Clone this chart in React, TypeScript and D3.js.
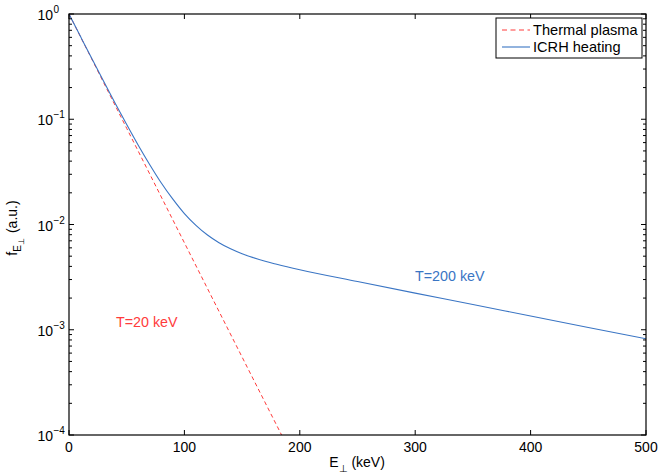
import React from "react";
import * as d3 from "d3";

// E_perp (keV) sample points
const icrhEnergy = [0, 10, 20, 30, 40, 50, 60, 70, 80, 90, 100, 110, 120, 130, 140, 150, 160, 170, 180, 200, 250, 300, 350, 400, 450, 500];
const icrhValues = [1.0, 0.61, 0.373, 0.2295, 0.1422, 0.0891, 0.0567, 0.037, 0.0248, 0.0174, 0.0127, 0.00982, 0.00794, 0.00671, 0.00587, 0.00527, 0.00483, 0.00447, 0.00419, 0.00372, 0.00287, 0.00223, 0.00174, 0.00135, 0.00105, 0.00082];

const thermalEnergy = [0, 50, 100, 150, 190];
const thermalValues = [1.0, 0.082, 0.0067, 0.00055, 0.000075];

const xTicks = [0, 100, 200, 300, 400, 500];
const yExponents = [0, -1, -2, -3, -4];

const legendLabels = ["Thermal plasma", "ICRH heating"];

const W = 658;
const H = 475;
const m = { left: 69, right: 12, top: 14, bottom: 40 };
const font = "'Liberation Sans', Arial, Helvetica, sans-serif";
const red = "#ff3b3b";
const blue = "#3a75c4";

export default function App() {
  const x = d3.scaleLinear().domain([0, 500]).range([m.left, W - m.right]);
  const y = d3.scaleLog().domain([1e-4, 1]).range([H - m.bottom, m.top]);

  const line = d3
    .line<[number, number]>()
    .x((d) => x(d[0]))
    .y((d) => y(d[1]))
    .curve(d3.curveMonotoneX);

  const icrh = icrhEnergy.map((e, i) => [e, icrhValues[i]] as [number, number]);
  const thermal = thermalEnergy.map((e, i) => [e, thermalValues[i]] as [number, number]);

  const x0 = x.range()[0];
  const x1 = x.range()[1];
  const y0 = y.range()[0];
  const y1 = y.range()[1];

  // minor ticks of the log axis
  const minor: number[] = [];
  for (let k = -4; k < 0; k++) {
    for (let j = 2; j <= 9; j++) minor.push(j * Math.pow(10, k));
  }

  return (
    <svg
      width={W}
      height={H}
      style={{ position: "absolute", left: 0, top: 0, background: "#fff" }}
      fontFamily={font}
    >
      <defs>
        <clipPath id="plot">
          <rect x={x0} y={y1} width={x1 - x0} height={y0 - y1} />
        </clipPath>
      </defs>
      <rect width={W} height={H} fill="#fff" />

      <g clipPath="url(#plot)">
        <path d={line(thermal) || ""} fill="none" stroke={red} strokeWidth={1} strokeDasharray="4,3" />
        <path d={line(icrh) || ""} fill="none" stroke={blue} strokeWidth={1.1} />
      </g>

      {/* ticks */}
      {xTicks.map((t) => (
        <g key={"x" + t}>
          <line x1={x(t)} x2={x(t)} y1={y0} y2={y0 - 5} stroke="#000" />
          <line x1={x(t)} x2={x(t)} y1={y1} y2={y1 + 5} stroke="#000" />
          <text x={x(t)} y={y0 + 17} fontSize={14} textAnchor="middle">
            {t}
          </text>
        </g>
      ))}
      {yExponents.map((e) => (
        <g key={"y" + e}>
          <line x1={x0} x2={x0 + 5} y1={y(Math.pow(10, e))} y2={y(Math.pow(10, e))} stroke="#000" />
          <line x1={x1} x2={x1 - 5} y1={y(Math.pow(10, e))} y2={y(Math.pow(10, e))} stroke="#000" />
          <text x={53} y={y(Math.pow(10, e)) + 6} fontSize={14} textAnchor="end">
            10
          </text>
          <text x={53.5} y={y(Math.pow(10, e)) - 1} fontSize={10}>
            {e === 0 ? "0" : "\u2212" + Math.abs(e)}
          </text>
        </g>
      ))}
      {minor.map((v, i) => (
        <g key={"m" + i}>
          <line x1={x0} x2={x0 + 3} y1={y(v)} y2={y(v)} stroke="#000" />
          <line x1={x1} x2={x1 - 3} y1={y(v)} y2={y(v)} stroke="#000" />
        </g>
      ))}

      {/* axes box */}
      <rect x={x0} y={y1} width={x1 - x0} height={y0 - y1} fill="none" stroke="#000" strokeWidth={1.2} />

      {/* axis labels */}
      <text x={357} y={467} fontSize={14} textAnchor="middle">
        E
        <tspan dy={5} fontSize={10}>
          ⊥
        </tspan>
        <tspan dy={-5} fontSize={14}>
          {" (keV)"}
        </tspan>
      </text>
      <text transform="translate(17,228) rotate(-90)" fontSize={14} textAnchor="middle">
        f
        <tspan dy={4} fontSize={10}>
          E
        </tspan>
        <tspan dy={3} fontSize={8}>
          ⊥
        </tspan>
        <tspan dy={-7} dx={5} fontSize={14}>
          {"(a.u.)"}
        </tspan>
      </text>

      {/* annotations */}
      <text x={116} y={327} fontSize={14.3} fill={red}>
        T=20 keV
      </text>
      <text x={415} y={281} fontSize={14.3} fill={blue}>
        T=200 keV
      </text>

      {/* legend */}
      <g>
        <rect x={496} y={18} width={146} height={40} fill="#fff" stroke="#000" strokeWidth={1} />
        <line x1={502} x2={530} y1={30} y2={30} stroke={red} strokeDasharray="5,3.5" />
        <text x={533} y={35} fontSize={14.6}>
          {legendLabels[0]}
        </text>
        <line x1={502} x2={530} y1={47} y2={47} stroke={blue} strokeWidth={1.1} />
        <text x={533} y={52} fontSize={14.6}>
          {legendLabels[1]}
        </text>
      </g>
    </svg>
  );
}
